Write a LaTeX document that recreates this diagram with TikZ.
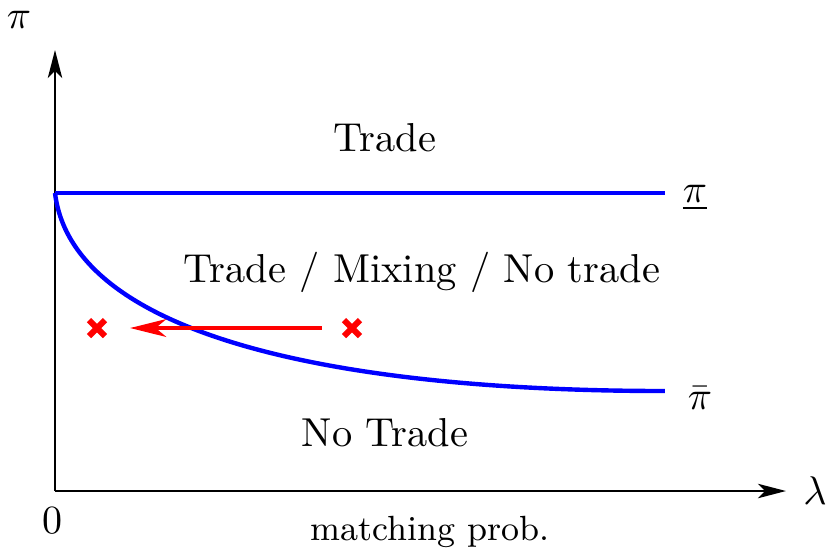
\documentclass[tikz,border=0pt]{standalone}
\usetikzlibrary{arrows.meta}
\begin{document}
\begin{tikzpicture}[x=0.25pt,y=-0.25pt,
  axis/.style={line width=0.6pt,-{Stealth[length=7pt,width=3.6pt,inset=1.8pt]}},
  bound/.style={blue,line width=1.1pt},
  movearrow/.style={red,line width=1.2pt,-{Stealth[length=9pt,width=4.4pt,inset=2.6pt]}},
  cross/.style={red,line width=1.5pt},
  lbl/.style={inner sep=0pt},
  region/.style={inner sep=0pt,font=\fontsize{10.1}{12}\selectfont}]
\useasboundingbox (0,0) rectangle (828,551);
% axes
\coordinate (O) at (55,491);
\coordinate (ytip) at (55,50);
\coordinate (xtip) at (786,491);
\draw[axis] (O) -- (ytip);
\draw[axis] (O) -- (xtip);
\node[lbl] (pilab) at (19,20) {$\pi$};
\node[lbl] (lamlab) at (815,491) {$\lambda$};
\node[lbl] (zero) at (52,521) {$0$};
\node[lbl,font=\fontsize{8.75}{10}\selectfont] (mp) at (430,532) {matching prob.};
% thresholds
\coordinate (top) at (55,193);
\coordinate (topend) at (665,193);
\coordinate (lowend) at (665,391);
\draw[bound] (top) -- (topend);
\draw[bound] (top) .. controls (73,340) and (350,391) .. (lowend);
\node[lbl] (ulab) at (695,198) {$\underline{\pi}$};
\node[lbl] (blab) at (700,398) {$\bar{\pi}$};
% regions
\node[region] (r1) at (385,138) {Trade};
\node[region] (r2) at (422,272) {Trade / Mixing / No trade};
\node[region] (r3) at (385,433) {No Trade};
% shift of the point
\coordinate (p1) at (97,328);
\coordinate (p2) at (352,328);
\foreach \p in {p1,p2}{
  \draw[cross] ([shift={(-8,-8)}]\p) -- ([shift={(8,8)}]\p);
  \draw[cross] ([shift={(-8,8)}]\p) -- ([shift={(8,-8)}]\p);
}
\coordinate (as) at (322,328);
\coordinate (ae) at (130,328);
\draw[movearrow] (as) -- (ae);
\end{tikzpicture}
\end{document}
